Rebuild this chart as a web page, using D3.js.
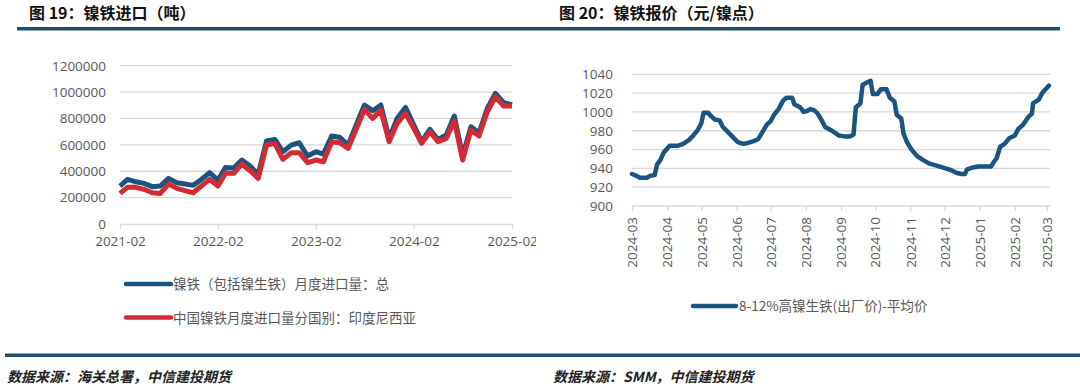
<!DOCTYPE html>
<html><head><meta charset="utf-8">
<script src="https://cdn.jsdelivr.net/npm/d3@7/dist/d3.min.js"></script>
<style>
html,body{margin:0;padding:0;background:#fff;}
svg{display:block;}
text{font-family:"Open Sans","Noto Sans CJK SC",sans-serif;}
</style></head>
<body>
<svg id="c" width="1080" height="391"></svg>
<script>
// ---------- data: left chart (monthly, 2021-02 .. 2025-02) ----------
const leftStart = "2021-02";
const leftTotal = [288000,338000,320000,308000,283000,288000,346000,313000,303000,293000,338000,389000,
  333000,429000,424000,485000,439000,376000,629000,641000,548000,598000,616000,515000,
  548000,530000,667000,657000,598000,750000,902000,859000,902000,649000,800000,884000,
  750000,624000,717000,641000,674000,818000,515000,737000,692000,876000,990000,919000,904000];
const leftIndonesia = [232000,278000,278000,263000,237000,232000,303000,270000,253000,237000,288000,338000,
  288000,384000,384000,455000,404000,346000,598000,611000,490000,540000,540000,465000,
  485000,472000,624000,616000,573000,717000,869000,800000,864000,624000,763000,838000,
  725000,611000,699000,624000,649000,783000,485000,712000,667000,851000,965000,894000,894000];
const leftYTicks = [0,200000,400000,600000,800000,1000000,1200000];
const leftXTicks = ["2021-02","2022-02","2023-02","2024-02","2025-02"];
const leftSeriesNames = ["镍铁（包括镍生铁）月度进口量：总","中国镍铁月度进口量分国别：印度尼西亚"];

// ---------- data: right chart (8-12% high nickel pig iron price) ----------
const rightDates = ["2024-03-01","2024-03-05","2024-03-08","2024-03-14","2024-03-17","2024-03-21","2024-03-23","2024-03-26","2024-03-29",
 "2024-04-01","2024-04-03","2024-04-10","2024-04-15","2024-04-20","2024-04-24","2024-04-28",
 "2024-05-01","2024-05-03","2024-05-07","2024-05-10","2024-05-13","2024-05-17","2024-05-20","2024-05-25","2024-05-29",
 "2024-06-02","2024-06-07","2024-06-11","2024-06-16","2024-06-20","2024-06-23","2024-06-28",
 "2024-07-01","2024-07-04","2024-07-08","2024-07-12","2024-07-15","2024-07-20","2024-07-22","2024-07-27","2024-07-30",
 "2024-08-02","2024-08-05","2024-08-08","2024-08-11","2024-08-15","2024-08-18","2024-08-24","2024-08-30",
 "2024-09-04","2024-09-09","2024-09-12","2024-09-14","2024-09-18","2024-09-20","2024-09-25","2024-09-27","2024-09-29",
 "2024-10-03","2024-10-06","2024-10-11","2024-10-14","2024-10-18","2024-10-20","2024-10-24","2024-10-26","2024-10-29",
 "2024-11-02","2024-11-07","2024-11-12","2024-11-18","2024-11-24",
 "2024-12-02","2024-12-07","2024-12-12","2024-12-16","2024-12-19","2024-12-21","2024-12-26","2024-12-31",
 "2025-01-07","2025-01-11","2025-01-13","2025-01-16","2025-01-19","2025-01-23","2025-01-27",
 "2025-02-01","2025-02-04","2025-02-08","2025-02-13","2025-02-16","2025-02-17","2025-02-22","2025-02-25","2025-03-03"];
const rightPrice = [934,932,930,930,932,933,944,949,957,
 961,964,964,966,970,975,981,
 988,999,999,995,992,991,984,978,973,
 968,966,967,969,971,977,987,
 990,997,1003,1012,1015,1015,1008,1005,1000,
 1001,1003,1002,999,991,984,980,975,
 974,974,976,1005,1009,1029,1032,1033,1019,
 1019,1024,1024,1015,1011,997,993,977,968,
 960,953,949,945,943,
 940,938,935,934,934,939,941,942,
 942,942,946,951,963,966,972,
 975,982,986,995,998,1009,1013,1020,1028];
const rightYTicks = [900,920,940,960,980,1000,1020,1040];
const rightXTicks = ["2024-03","2024-04","2024-05","2024-06","2024-07","2024-08","2024-09","2024-10","2024-11","2024-12","2025-01","2025-02","2025-03"];
const rightSeriesName = "8-12%高镍生铁(出厂价)-平均价";

const titles = ["图 19：镍铁进口（吨）","图 20：镍铁报价（元/镍点）"];
const sources = ["数据来源：海关总署，中信建投期货","数据来源：SMM，中信建投期货"];

// ---------- drawing ----------
const svg = d3.select("#c");
const BLUE = "#1b5480", RED = "#d42a33", GRID = "#d9d9d9", TXT = "#595959";
const pm = d3.timeParse("%Y-%m"), pd = d3.timeParse("%Y-%m-%d");

// headers
svg.append("text").attr("x",29).attr("y",18.5).text(titles[0])
  .style("font-family","'Noto Sans CJK SC',sans-serif").style("font-weight",700).style("font-size","16px").attr("fill","#111");
svg.append("text").attr("x",559).attr("y",18.5).text(titles[1])
  .style("font-family","'Noto Sans CJK SC',sans-serif").style("font-weight",700).style("font-size","16px").attr("fill","#111");
svg.append("rect").attr("x",17).attr("y",27).attr("width",1043).attr("height",3.5).attr("fill","#1d4e73");
svg.append("rect").attr("x",5).attr("y",353.5).attr("width",1075).attr("height",3.5).attr("fill","#1d4e73");
svg.append("text").attr("x",7).attr("y",382).text(sources[0])
  .style("font-family","'Noto Sans CJK SC',serif").style("font-style","italic").style("font-weight",700).style("font-size","14px").attr("fill","#222");
svg.append("text").attr("x",553).attr("y",382).text(sources[1])
  .style("font-family","'Noto Sans CJK SC',serif").style("font-style","italic").style("font-weight",700).style("font-size","14px").attr("fill","#222");

// ---- left chart ----
svg.append("defs").append("clipPath").attr("id","lclip").append("rect").attr("x",0).attr("y",35).attr("width",536).attr("height",310);
const L = svg.append("g").attr("clip-path","url(#lclip)");
const lDates = leftTotal.map((_,i)=>d3.timeMonth.offset(pm(leftStart), i));
const lx = d3.scaleTime().domain([pm(leftXTicks[0]), pm(leftXTicks[leftXTicks.length-1])]).range([120,512]);
const ly = d3.scaleLinear().domain([0,1200000]).range([224,65.7]);

L.append("g").selectAll("line").data(leftYTicks.filter(d=>d>0)).join("line")
  .attr("x1",120).attr("x2",512).attr("y1",d=>ly(d)).attr("y2",d=>ly(d)).attr("stroke",GRID).attr("stroke-width",1.3);
const lyAxis = L.append("g").attr("transform","translate(106,0)")
  .call(d3.axisLeft(ly).tickValues(leftYTicks).tickFormat(d3.format("d")).tickSize(0).tickPadding(0));
lyAxis.select(".domain").remove();
lyAxis.selectAll("text").attr("fill",TXT).style("font-size","13.5px");
const lxAxis = L.append("g").attr("transform","translate(0,224)")
  .call(d3.axisBottom(lx).tickValues(leftXTicks.map(pm)).tickFormat(d3.timeFormat("%Y-%m")).tickSizeInner(5).tickSizeOuter(0).tickPadding(7));
lxAxis.select(".domain").attr("stroke",GRID).attr("stroke-width",1.3);
lxAxis.selectAll("line").attr("stroke",GRID).attr("stroke-width",1.3);
lxAxis.selectAll("text").attr("fill",TXT).style("font-size","13.5px");

const lline = d3.line().x((d,i)=>lx(lDates[i])).y(d=>ly(d));
L.append("path").datum(leftTotal).attr("d",lline).attr("fill","none").attr("stroke",BLUE).attr("stroke-width",5).attr("stroke-linejoin","round");
L.append("path").datum(leftIndonesia).attr("d",lline).attr("fill","none").attr("stroke",RED).attr("stroke-width",5).attr("stroke-linejoin","round");

// left legend
[[BLUE,284],[RED,317.5]].forEach(([c,y],i)=>{
  svg.append("line").attr("x1",126).attr("x2",171).attr("y1",y).attr("y2",y).attr("stroke",c).attr("stroke-width",4.5).attr("stroke-linecap","round");
  svg.append("text").attr("x",173).attr("y",y+5).text(leftSeriesNames[i])
    .style("font-family","'Noto Sans CJK SC',sans-serif").style("font-size","13.5px").attr("fill",TXT);
});

// ---- right chart ----
const R = svg.append("g");
const rx = d3.scaleTime().domain([pm(rightXTicks[0]), pm(rightXTicks[rightXTicks.length-1])]).range([632,1046.7]);
const ry = d3.scaleLinear().domain([900,1040]).range([206,74.3]);
R.append("g").selectAll("line").data(rightYTicks.filter(d=>d>900)).join("line")
  .attr("x1",632).attr("x2",1050).attr("y1",d=>ry(d)).attr("y2",d=>ry(d)).attr("stroke",GRID).attr("stroke-width",1.3);
const ryAxis = R.append("g").attr("transform","translate(613,0)")
  .call(d3.axisLeft(ry).tickValues(rightYTicks).tickFormat(d3.format("d")).tickSize(0).tickPadding(0));
ryAxis.select(".domain").remove();
ryAxis.selectAll("text").attr("fill",TXT).style("font-size","13.5px");
R.append("line").attr("x1",632).attr("x2",1050).attr("y1",206).attr("y2",206).attr("stroke",GRID).attr("stroke-width",1.3);
const rxAxis = R.append("g").attr("transform","translate(0,206)")
  .call(d3.axisBottom(rx).tickValues(rightXTicks.map(pm)).tickFormat(d3.timeFormat("%Y-%m")).tickSizeInner(5).tickSizeOuter(0).tickPadding(6));
rxAxis.select(".domain").remove();
rxAxis.selectAll("line").attr("stroke",GRID).attr("stroke-width",1.3);
rxAxis.selectAll("text").attr("fill",TXT).style("font-size","13.5px")
  .attr("text-anchor","end").attr("dy","0.35em").attr("dx",0).attr("y",0)
  .attr("transform","translate(0,11) rotate(-90)");

const rline = d3.line().x((d,i)=>rx(pd(rightDates[i]))).y(d=>ry(d));
R.append("path").datum(rightPrice).attr("d",rline).attr("fill","none").attr("stroke",BLUE).attr("stroke-width",4.5).attr("stroke-linejoin","round").attr("stroke-linecap","round");

svg.append("line").attr("x1",693).attr("x2",736).attr("y1",306).attr("y2",306).attr("stroke",BLUE).attr("stroke-width",4.5).attr("stroke-linecap","round");
svg.append("text").attr("x",739).attr("y",311).text(rightSeriesName)
  .style("font-family","'Noto Sans CJK SC',sans-serif").style("font-size","13.5px").attr("fill",TXT);
</script>
</body></html>
